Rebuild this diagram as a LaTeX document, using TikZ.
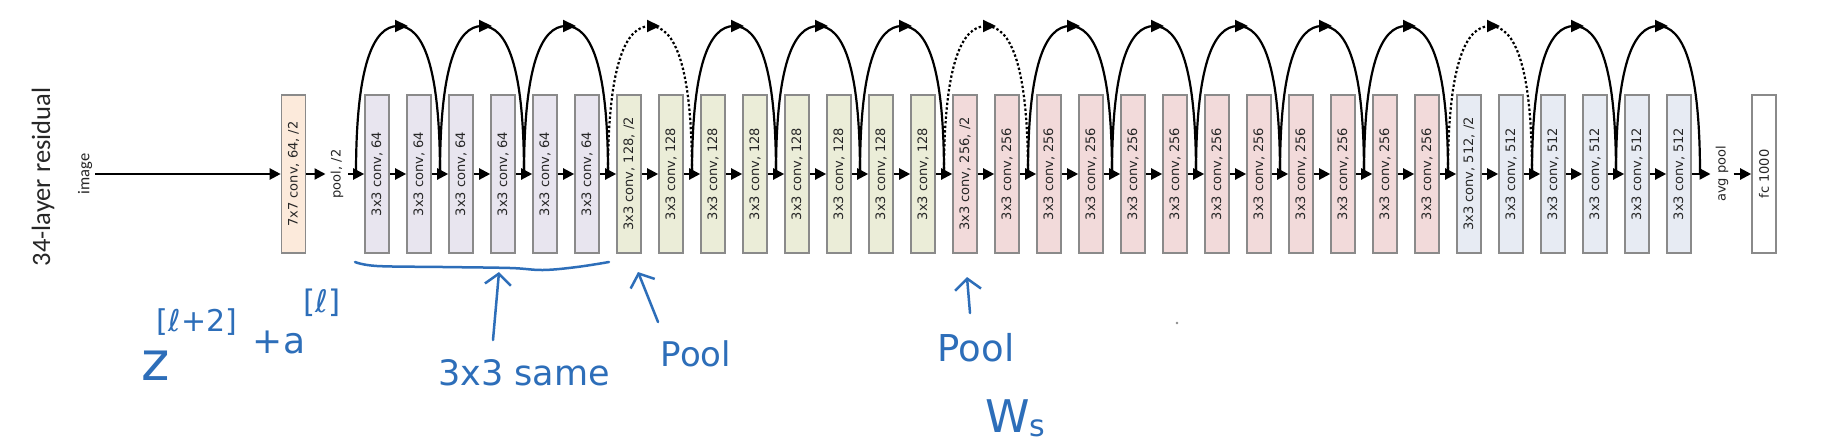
\documentclass[tikz,border=0pt]{standalone}
\usepackage{fontspec}
\setmainfont{DejaVu Sans}
\newfontfamily\titlefont{Carlito}
\newfontfamily\handfont{DejaVu Sans}
\usetikzlibrary{arrows.meta}
\definecolor{boxline}{HTML}{8A8A8A}
\definecolor{txt}{HTML}{262626}
\definecolor{peach}{HTML}{FCEADB}
\definecolor{lav}{HTML}{E8E5EF}
\definecolor{grn}{HTML}{EBEDD8}
\definecolor{pnk}{HTML}{F2DADA}
\definecolor{blu}{HTML}{E7EBF3}
\definecolor{ink}{RGB}{45,110,185}
\begin{document}
\begin{tikzpicture}[x=1pt,y=-1pt,
  layer/.style={draw=boxline, line width=1.6pt, minimum width=24pt, minimum height=158pt,
    inner sep=0pt, text=txt, font=\fontsize{13}{13}\selectfont},
  lbl/.style={text=txt, font=\fontsize{13}{13}\selectfont, inner ysep=0pt, inner xsep=5pt},
  flow/.style={line width=2.2pt, -{Triangle[length=11pt,width=11pt]}},
  skiparc/.style={line width=2.2pt},
  tiptop/.style={line width=2.2pt, -{Triangle[length=13pt,width=12pt]}},
  plainarc/.style={},
  dotarc/.style={dash pattern=on 2.4pt off 2.2pt},
  hand/.style={text=ink, inner sep=0pt, anchor=base},
  handarrow/.style={draw=ink, line width=2.5pt, line cap=round, line join=round,
    -{Straight Barb[length=11pt,width=26pt]}}
]
\fill[white] (0,0) rectangle (1824,445);
\useasboundingbox (0,0) rectangle (1824,445);

% title and input
\node[text=black!85, font=\titlefont\fontsize{26.5}{26.5}\selectfont, inner sep=0pt] (title) at (43,177) {\rotatebox{90}{34-layer residual}};
\node[text=txt, font=\titlefont\fontsize{16.5}{16.5}\selectfont, inner ysep=0pt, inner xsep=3pt] (img) at (85,174) {\rotatebox{90}{image}};

% first conv and pool
\node[layer, fill=peach] (c7) at (293.5,174) {\rotatebox{90}{7x7 conv, 64, /2}};
\node[lbl] (pool) at (337,174) {\rotatebox{90}{pool, /2}};

% 3x3 layers
\foreach \k in {0,...,5}
  \node[layer, fill=lav] (b\k) at ({377+42*\k},174) {\rotatebox{90}{3x3 conv, 64}};
\node[layer, fill=grn] (b6) at ({377+42*6},174) {\rotatebox{90}{3x3 conv, 128, /2}};
\foreach \k in {7,...,13}
  \node[layer, fill=grn] (b\k) at ({377+42*\k},174) {\rotatebox{90}{3x3 conv, 128}};
\node[layer, fill=pnk] (b14) at ({377+42*14},174) {\rotatebox{90}{3x3 conv, 256, /2}};
\foreach \k in {15,...,25}
  \node[layer, fill=pnk] (b\k) at ({377+42*\k},174) {\rotatebox{90}{3x3 conv, 256}};
\node[layer, fill=blu] (b26) at ({377+42*26},174) {\rotatebox{90}{3x3 conv, 512, /2}};
\foreach \k in {27,...,31}
  \node[layer, fill=blu] (b\k) at ({377+42*\k},174) {\rotatebox{90}{3x3 conv, 512}};

\node[lbl] (avg) at (1722,174) {\rotatebox{90}{avg pool}};
\node[layer, fill=white] (fc) at (1764,174) {\rotatebox{90}{fc 1000}};

% main flow
\draw[flow] (img.east) -- (c7.west);
\draw[flow] (c7.east) -- (pool.west);
\draw[flow] (pool.east) -- (b0.west);
\foreach \k [evaluate=\k as \n using int(\k+1)] in {0,...,30}
  \draw[flow] (b\k.east) -- (b\n.west);
\draw[flow] (b31.east) -- (avg.west);
\draw[flow] (avg.east) -- (fc.west);

% shortcut connections
\foreach \k in {0,...,32}
  \coordinate (g\k) at ({356+42*\k},174);
\foreach \i/\s in {0/plainarc,1/plainarc,2/plainarc,3/dotarc,4/plainarc,5/plainarc,6/plainarc,7/dotarc,
                   8/plainarc,9/plainarc,10/plainarc,11/plainarc,12/plainarc,13/dotarc,14/plainarc,15/plainarc}{
  \pgfmathtruncatemacro\a{2*\i}
  \pgfmathtruncatemacro\b{2*\i+2}
  \coordinate (t\i) at ({398+84*\i},26);
  \coordinate (ta\i) at ({395+84*\i},26);
  \coordinate (tb\i) at ({408+84*\i},26);
  \draw[skiparc,\s] (g\a) .. controls +(0,-108) and +(-25,0) .. (t\i)
                          .. controls +(25,0) and +(0,-108) .. (g\b);
  \draw[tiptop] (ta\i) -- (tb\i);
}

% handwritten annotations
\draw[ink, line width=2.5pt, line cap=round]
  plot[smooth, tension=0.6] coordinates {(355,262) (377,266) (443,267) (510,268) (543,270) (577,267) (609,262)};

\node[hand, font=\handfont\fontsize{54}{54}\selectfont] (z) at (156,380) {z};
\node[hand, font=\handfont\fontsize{30}{30}\selectfont] (zsup) at (197,331) {[ℓ+2]};
\node[hand, font=\handfont\fontsize{36}{36}\selectfont] (pa) at (279,353) {+a};
\node[hand, font=\handfont\fontsize{31}{31}\selectfont] (asup) at (322,312) {[ℓ]};

\node[hand, font=\handfont\fontsize{35}{35}\selectfont] (same) at (524,385) {3x3 same};
\coordinate (sameT) at (493,340);
\coordinate (sameH) at (499,272);
\draw[handarrow] (sameT) -- (sameH);

\node[hand, font=\handfont\fontsize{34}{34}\selectfont] (poolA) at (696,366) {Pool};
\coordinate (poolAT) at (658,322);
\coordinate (poolAH) at (638,272);
\draw[handarrow] (poolAT) -- (poolAH);

\node[hand, font=\handfont\fontsize{37}{37}\selectfont] (poolB) at (976,361) {Pool};
\coordinate (poolBT) at (970,313);
\coordinate (poolBH) at (967,277);
\draw[handarrow] (poolBT) -- (poolBH);

\node[hand, anchor=base west, font=\handfont\fontsize{45}{45}\selectfont] (ws) at (985,432)
  {W\raisebox{-4pt}{\fontsize{30}{30}\selectfont s}};

\fill[black!45] (1177,323) circle (1.4);
\end{tikzpicture}
\end{document}
